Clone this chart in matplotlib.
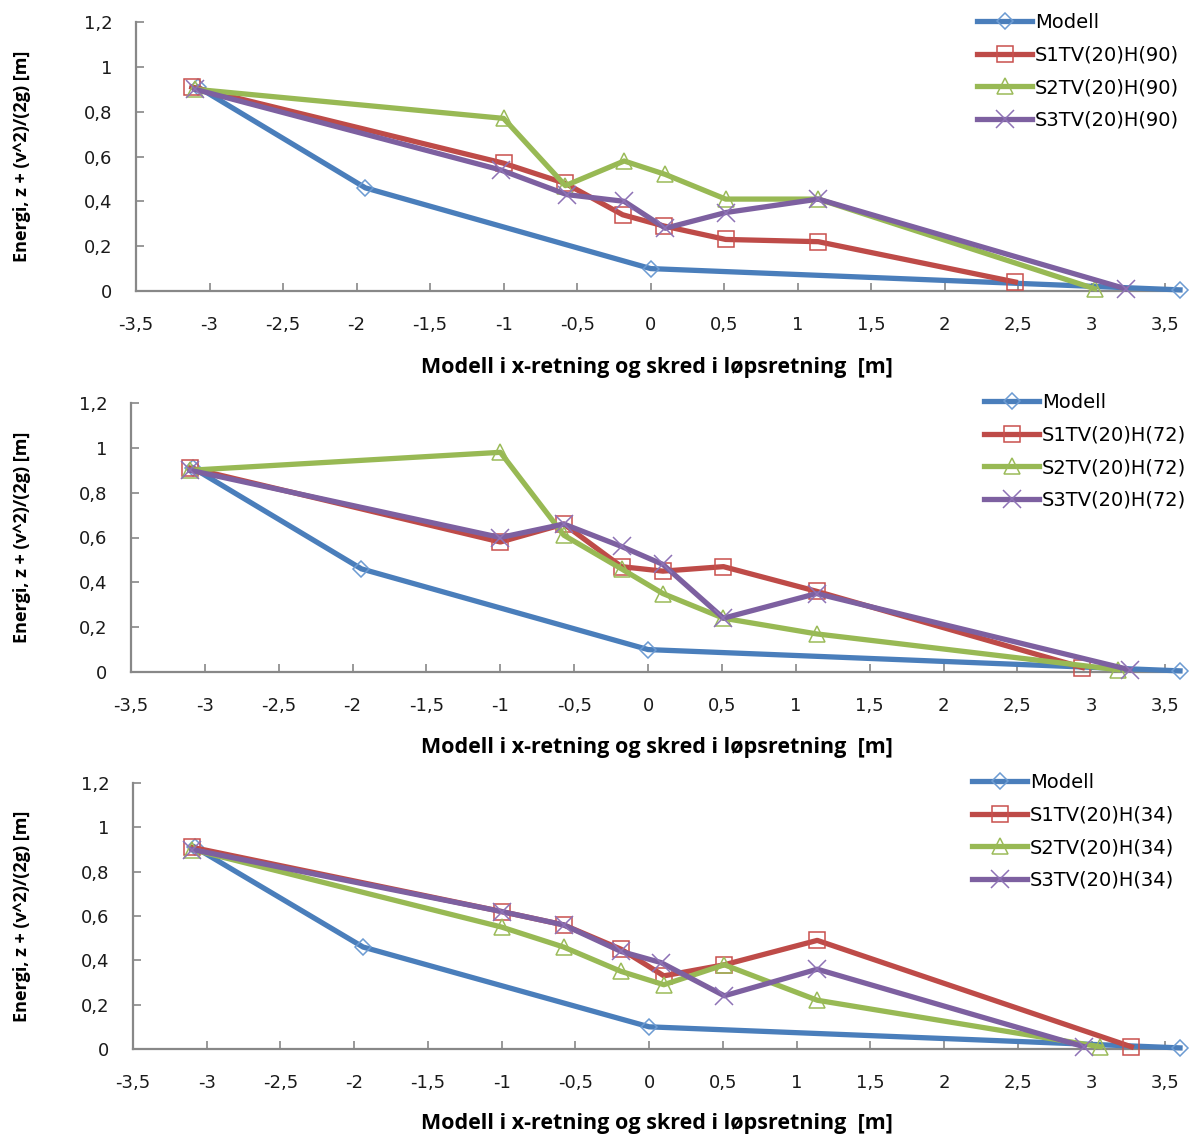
import matplotlib.pyplot as plt

# Energi langs modell og skred, tre slipphoyder (90, 72, 34)

modell_x = [-3.08, -1.94, 0.0, 3.6]
modell_y = [0.91, 0.46, 0.10, 0.005]

# H(90)
s1_90_x = [-3.12, -1.0, -0.58, -0.19, 0.09, 0.51, 1.14, 2.48]
s1_90_y = [0.91, 0.57, 0.48, 0.34, 0.29, 0.23, 0.22, 0.04]
s2_90_x = [-3.1, -1.0, -0.58, -0.18, 0.1, 0.51, 1.14, 3.02]
s2_90_y = [0.90, 0.77, 0.47, 0.58, 0.52, 0.41, 0.41, 0.01]
s3_90_x = [-3.1, -1.02, -0.57, -0.18, 0.1, 0.51, 1.14, 3.23]
s3_90_y = [0.90, 0.54, 0.43, 0.40, 0.28, 0.35, 0.41, 0.01]

# H(72)
s1_72_x = [-3.1, -1.0, -0.57, -0.18, 0.1, 0.51, 1.14, 2.94]
s1_72_y = [0.91, 0.58, 0.66, 0.47, 0.45, 0.47, 0.36, 0.02]
s2_72_x = [-3.1, -1.0, -0.57, -0.18, 0.1, 0.51, 1.14, 3.18]
s2_72_y = [0.90, 0.98, 0.61, 0.46, 0.35, 0.24, 0.17, 0.01]
s3_72_x = [-3.1, -1.0, -0.57, -0.18, 0.1, 0.51, 1.14, 3.26]
s3_72_y = [0.90, 0.60, 0.66, 0.56, 0.48, 0.24, 0.35, 0.01]

# H(34)
s1_34_x = [-3.1, -1.0, -0.58, -0.19, 0.1, 0.51, 1.14, 3.27]
s1_34_y = [0.91, 0.62, 0.56, 0.45, 0.33, 0.38, 0.49, 0.01]
s2_34_x = [-3.1, -1.0, -0.58, -0.19, 0.1, 0.51, 1.14, 3.06]
s2_34_y = [0.90, 0.55, 0.46, 0.35, 0.29, 0.38, 0.22, 0.01]
s3_34_x = [-3.1, -1.0, -0.58, -0.19, 0.08, 0.51, 1.14, 2.95]
s3_34_y = [0.90, 0.62, 0.56, 0.44, 0.39, 0.24, 0.36, 0.01]

x_ticks = [-3.5, -3, -2.5, -2, -1.5, -1, -0.5, 0, 0.5, 1, 1.5, 2, 2.5, 3, 3.5]
y_ticks = [0, 0.2, 0.4, 0.6, 0.8, 1, 1.2]

def komma(v):
    s = ('%g' % v).replace('.', ',')
    return s

plt.rcParams['font.family'] = ['DejaVu Sans']
label_font = ['Open Sans', 'DejaVu Sans']

W, H = 1193, 1138
fig = plt.figure(figsize=(W / 100, H / 100), dpi=100)

# left px, top px, bottom px, legend x/y px, tag, series, x-label y px
panels = [
    (136, 22, 291, 977, 13, 'H(90)', [(s1_90_x, s1_90_y), (s2_90_x, s2_90_y), (s3_90_x, s3_90_y)], 368),
    (131, 403, 672, 984, 393, 'H(72)', [(s1_72_x, s1_72_y), (s2_72_x, s2_72_y), (s3_72_x, s3_72_y)], 748),
    (133, 783, 1049, 972, 773, 'H(34)', [(s1_34_x, s1_34_y), (s2_34_x, s2_34_y), (s3_34_x, s3_34_y)], 1124),
]

line_col = ['#4A7EBB', '#BE4B48', '#98B954', '#7D60A0']
mark_col = ['#6C9BD2', '#C9504D', '#9BBB59', '#8E72B6']
markers = ['D', 's', '^', 'x']
msizes = [8.5, 11, 11, 13]

for left, top, bottom, lx, ly, tag, series, xlab_y in panels:
    right = 1180
    ax = fig.add_axes([left / W, 1 - bottom / H, (right - left) / W, (bottom - top) / H])

    names = ['Modell', 'S1TV(20)' + tag, 'S2TV(20)' + tag, 'S3TV(20)' + tag]
    data = [(modell_x, modell_y)] + series
    for i, (xs, ys) in enumerate(data):
        ax.plot(xs, ys, color=line_col[i], lw=3.8, marker=markers[i], ms=msizes[i],
                mfc='none', mec=mark_col[i], mew=1.1, label=names[i], clip_on=False,
                zorder=3 + i)

    ax.set_xlim(-3.5, 3.6)
    ax.set_ylim(0, 1.2)
    ax.set_xticks(x_ticks, [komma(v) for v in x_ticks])
    ax.set_yticks(y_ticks, [komma(v) for v in y_ticks])
    ax.tick_params(direction='in', length=6, width=1.2, color='#888888',
                   labelsize=13, labelcolor='#1a1a1a')
    ax.tick_params(axis='x', pad=18)
    ax.tick_params(axis='y', pad=17)
    for sp in ['top', 'right']:
        ax.spines[sp].set_visible(False)
    for sp in ['left', 'bottom']:
        ax.spines[sp].set_color('#888888')
        ax.spines[sp].set_linewidth(1.6)

    ax.legend(loc='upper left', bbox_to_anchor=(lx / W, 1 - ly / H),
              bbox_transform=fig.transFigure, frameon=False, fontsize=14,
              handlelength=2.85, handletextpad=0.12, labelspacing=0.7,
              borderpad=0, borderaxespad=0)

    fig.text(22 / W, 1 - (top + bottom) / 2 / H, 'Energi, z + (v^2)/(2g) [m]',
             rotation=90, ha='center', va='center', fontsize=13, fontweight='bold',
             family=label_font)
    fig.text(657 / W, 1 - xlab_y / H, 'Modell i x-retning og skred i løpsretning  [m]',
             ha='center', va='center', fontsize=15.5, fontweight='bold',
             family=label_font)

fig.savefig('out.png', dpi=100)
